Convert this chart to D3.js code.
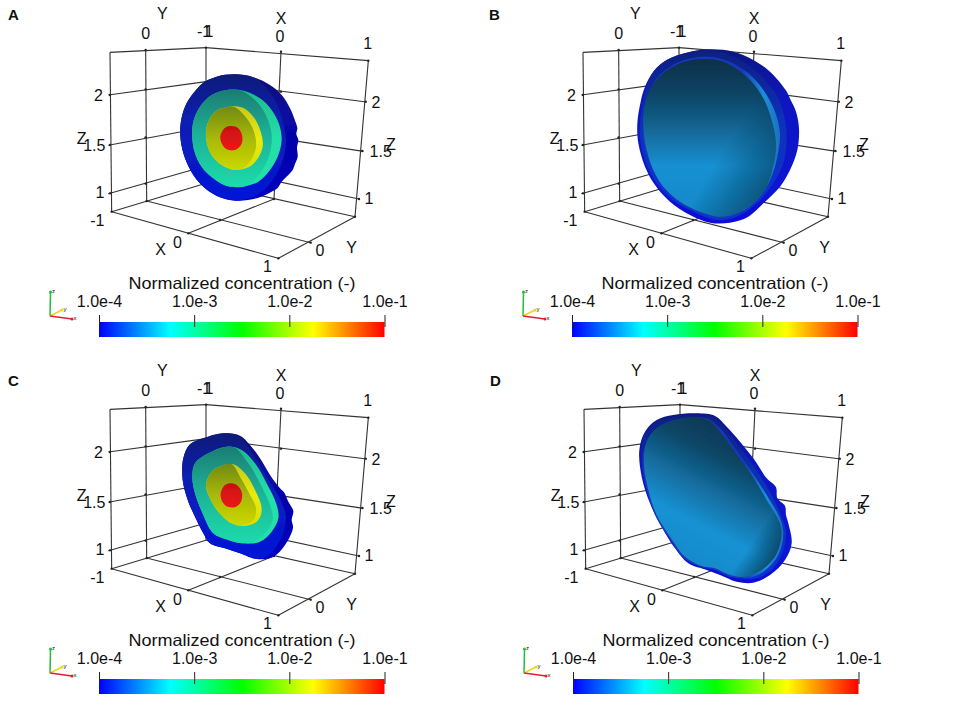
<!DOCTYPE html>
<html>
<head>
<meta charset="utf-8">
<script src="https://cdn.jsdelivr.net/npm/d3@7"></script>
<style>
body { margin: 0; background: #fff; }
text { font-family: "Liberation Sans", Arial, sans-serif; fill: #111; }
</style>
</head>
<body>
<svg id="chart" width="957" height="709"></svg>
<script>
// in 3x crop units
var panelNames = ["A", "B", "C", "D"];
var concTicks = [1e-4, 1e-3, 1e-2, 1e-1];
var concLabels = ["1.0e-4", "1.0e-3", "1.0e-2", "1.0e-1"];
var barTitle = "Normalized concentration (-)";

// bounding box wireframe, [x1,y1,x2,y2]
var boxLines = [
  [330,157,618,143],[618,143,1105,182],
  [330,157,335,635],[437,150,440,603],[618,143,618,550],[843,155,822,597],[1105,182,1065,650],
  [325,285,618,245],[618,245,1100,306],
  [325,436,618,382],[618,382,1090,454],
  [325,581,618,498],[618,498,1080,598],
  [335,635,618,550],[618,550,1065,650],
  [335,635,835,775],[835,775,1065,650],
  [440,603,932,728],[565,700,822,597]
];
var boxDots = [
  [437,150],[618,143],[843,155],[1105,182],
  [330,285],[437,268],[843,275],[1097,305],
  [330,435],[437,412],[1087,453],
  [330,580],[437,551],[1077,597],
  [335,635],[440,603],[822,597],[1065,650],
  [565,700],[835,775],[932,728],[660,660]
];
// axis labels: text, x, y
var axisText = [
  ["Y",487,58],["0",437,116],["-1",612,112],["1",627,112],["X",843,72],["0",840,126],["1",1103,146],
  ["2",295,303],["Z",245,432],["1.5",283,453],["1",300,595],["-1",292,678],
  ["X",482,765],["0",532,744],["1",802,817],["0",960,767],["Y",1055,758],
  ["2",1128,323],["1.5",1142,471],["Z",1173,449],["1",1107,611]
];

// A: crop origin 160,60
var rimA = [[130,68],[170,50],[225,43],[280,52],[330,75],[365,105],[390,145],[408,190],[412,205],[409,222],[415,240],[411,262],[413,290],[405,312],[398,330],[385,345],[365,365],[352,385],[335,395],[290,415],[230,422],[180,412],[135,385],[100,345],[75,295],[62,240],[62,190],[75,140],[100,100]];
var ringA = [[130,68],[170,50],[225,43],[280,52],[320,85],[350,130],[370,190],[378,250],[365,310],[335,365],[290,405],[230,422],[180,412],[135,385],[100,345],[75,295],[62,240],[62,190],[75,140],[100,100]];
var tealA = [[155,105],[200,90],[250,92],[300,115],[335,150],[358,195],[365,240],[355,285],[330,330],[295,365],[250,380],[200,378],[160,355],[125,320],[105,280],[97,235],[100,185],[120,140]];
var tealInA = [[155,105],[200,90],[245,93],[290,125],[320,170],[335,225],[328,285],[300,340],[265,375],[225,380],[195,376],[160,355],[125,320],[105,280],[97,235],[100,185],[120,140]];
var yelA = [[165,155],[205,140],[245,142],[280,170],[302,215],[308,260],[290,300],[265,322],[225,330],[185,315],[155,285],[140,245],[140,200]];
var yelInA = [[165,155],[205,140],[225,142],[260,175],[282,215],[288,260],[270,305],[240,328],[225,330],[185,315],[155,285],[140,245],[140,200]];
var redA = [[195,203],[215,198],[235,205],[247,230],[243,255],[225,270],[200,268],[185,250],[181,228]];

// C: crop origin 160,405
var rimC = [[90,118],[130,100],[190,85],[240,92],[270,120],[300,160],[330,210],[360,250],[372,262],[385,290],[400,318],[395,345],[399,368],[375,420],[340,455],[290,462],[240,445],[195,430],[150,415],[130,385],[105,335],[85,290],[68,225],[70,160]];
var ringC = [[90,118],[130,100],[190,85],[235,92],[262,122],[290,165],[320,215],[348,260],[368,300],[378,335],[372,375],[352,420],[325,452],[290,462],[240,445],[195,430],[150,415],[130,385],[105,335],[85,290],[68,225],[70,160]];
var tealC = [[105,175],[145,145],[200,125],[245,135],[285,175],[320,235],[350,300],[355,340],[335,380],[300,410],[250,415],[205,405],[160,385],[130,330],[105,265],[97,215]];
var tealInC = [[105,175],[145,145],[200,125],[225,128],[265,175],[300,235],[330,300],[338,345],[315,385],[280,412],[250,415],[205,405],[160,385],[130,330],[105,265],[97,215]];
var yelC = [[155,200],[185,182],[220,178],[255,205],[285,255],[305,310],[295,345],[260,362],[215,355],[175,320],[150,280],[138,240]];
var yelInC = [[155,200],[185,182],[215,178],[240,215],[265,260],[288,310],[280,345],[245,362],[215,355],[175,320],[150,280],[138,240]];
var redC = [[195,240],[214,235],[234,243],[246,265],[243,290],[226,306],[203,305],[187,290],[182,265]];

// B: crop origin 620,40
var rimB = [[100,95],[140,60],[200,38],[270,28],[340,35],[400,60],[450,95],[497,150],[512,180],[528,215],[537,265],[532,330],[510,390],[480,440],[430,490],[385,530],[330,548],[270,548],[210,525],[150,485],[105,435],[75,380],[55,310],[52,250],[62,185],[75,140]];
var midB = [[100,95],[140,60],[200,38],[270,30],[330,45],[385,75],[435,120],[475,175],[495,240],[500,300],[490,370],[460,430],[410,490],[350,530],[290,540],[220,515],[155,478],[110,430],[80,375],[62,310],[60,250],[68,190],[80,140]];
var lightB = [[85,165],[110,115],[150,80],[200,58],[270,50],[330,65],[385,100],[430,150],[465,215],[480,280],[472,350],[450,420],[410,480],[355,522],[300,535],[235,518],[170,482],[125,435],[95,385],[75,325],[68,260]];
var coreB = [[75,190],[95,140],[130,100],[175,72],[230,58],[290,60],[340,80],[395,125],[430,175],[455,240],[468,310],[462,370],[440,440],[400,490],[350,520],[300,530],[240,515],[180,485],[130,440],[100,390],[80,330],[70,260]];

// D: crop origin 620,400
var rimD = [[75,95],[110,60],[160,45],[230,40],[285,48],[320,80],[360,125],[400,175],[440,235],[468,262],[472,295],[495,318],[498,345],[505,370],[515,430],[495,480],[450,525],[400,548],[350,545],[300,525],[260,510],[205,490],[165,445],[125,380],[90,310],[65,230],[58,150]];
var midD = [[75,100],[110,65],[160,50],[230,44],[280,52],[315,85],[355,135],[395,190],[435,250],[465,305],[485,350],[498,395],[490,450],[460,505],[410,535],[360,535],[305,515],[262,500],[210,482],[170,440],[130,378],[95,308],[72,230],[65,150]];
var lightD = [[72,150],[95,100],[135,70],[190,55],[260,55],[300,85],[345,145],[395,215],[440,285],[480,355],[490,400],[475,465],[430,515],[378,535],[328,530],[285,510],[245,502],[192,475],[145,412],[105,345],[80,270],[68,200]];
var coreD = [[80,125],[110,85],[150,65],[210,52],[265,60],[300,95],[345,155],[395,225],[440,300],[478,365],[485,400],[468,465],[425,510],[375,530],[330,525],[285,505],[245,498],[195,470],[150,410],[110,345],[85,270],[72,190]];

var svg = d3.select("#chart");
var defs = svg.append("defs");

function addGradient(id, stops, x2, y2, x1, y1) {
  var g = defs.append("linearGradient").attr("id", id)
    .attr("x1", x1 || 0).attr("y1", y1 || 0)
    .attr("x2", x2).attr("y2", y2);
  g.selectAll("stop").data(stops).enter().append("stop")
    .attr("offset", function(d){ return d[0]; })
    .attr("stop-color", function(d){ return d[1]; })
    .attr("stop-opacity", function(d){ return d[2] === undefined ? 1 : d[2]; });
}
addGradient("rainbow", [[0,"#0000ff"],[.25,"#00ffff"],[.5,"#00ff00"],[.75,"#ffff00"],[1,"#ff0000"]], 1, 0);
addGradient("rimBlue", [[0,"#0a1070"],[.3,"#0808a0"],[1,"#0000c0"]], 0, 1);
addGradient("ringBlue", [[0,"#0c1a78"],[.35,"#0a20b0"],[1,"#0414d8"]], 0, 1);
addGradient("tealRim", [[0,"#1fb890"],[.5,"#22e0a8"],[1,"#20e0a8"]], 0, 1);
addGradient("tealIn", [[0,"#197c72"],[.45,"#1eb096"],[1,"#1fdcaa"]], 0, 1);
addGradient("yelRim", [[0,"#c8c818"],[.5,"#eaea10"],[1,"#d8e000"]], 0, 1);
addGradient("yelIn", [[0,"#728a14"],[.5,"#a8b808"],[1,"#ccd800"]], 0, 1);
addGradient("redFill", [[0,"#c81010"],[1,"#f01818"]], 0, 1);
addGradient("edgeBlue", [[0,"#0a1480"],[.3,"#1018c0"],[1,"#0a10d8"]], 0, 1);
addGradient("midBlue", [[0,"#0a1f80"],[.4,"#1030b8"],[1,"#1030d0"]], 0, 1);
addGradient("lightRim", [[0,"#1438b8"],[.72,"#1438b8"],[.88,"#1a90d8"],[1,"#1a70c0"]], 1, 0);
addGradient("coreB", [[0,"#0c3048"],[.22,"#0e4464"],[.42,"#12628f"],[.68,"#1390d2"],[1,"#1288c8"]], 0, 1);
addGradient("shadeB", [[0,"#0c3048",0],[.62,"#0c3048",0],[1,"#0c3048",.6]], 1, .75, .1, .1);
addGradient("coreD", [[0,"#0c3048"],[.28,"#0e4666"],[.48,"#12699a"],[.72,"#1392d4"],[1,"#1288c8"]], .3, .95, .72, 0);
addGradient("shadeD", [[0,"#0c3048",0],[.7,"#0c3048",0],[1,"#0c3048",.65]], .95, .85, .5, .5);

var soft = defs.append("filter").attr("id", "soft");
soft.append("feGaussianBlur").attr("stdDeviation", 0.5);

var panels = [
  { name: panelNames[0], dx: 0, dy: 0, labelX: 8, labelY: 20, cropX: 160, cropY: 60,
    layers: [[rimA,"rimBlue"],[ringA,"ringBlue"],[tealA,"tealRim"],[tealInA,"tealIn"],[yelA,"yelRim"],[yelInA,"yelIn"],[redA,"redFill"]] },
  { name: panelNames[1], dx: 473, dy: 0, labelX: 489, labelY: 20, cropX: 620, cropY: 40,
    layers: [[rimB,"edgeBlue"],[midB,"midBlue"],[lightB,"lightRim"],[coreB,"coreB"],[coreB,"shadeB"]] },
  { name: panelNames[2], dx: 0, dy: 357, labelX: 8, labelY: 386, cropX: 160, cropY: 405,
    layers: [[rimC,"rimBlue"],[ringC,"ringBlue"],[tealC,"tealRim"],[tealInC,"tealIn"],[yelC,"yelRim"],[yelInC,"yelIn"],[redC,"redFill"]] },
  { name: panelNames[3], dx: 474, dy: 357, labelX: 490, labelY: 386, cropX: 620, cropY: 400,
    layers: [[rimD,"edgeBlue"],[midD,"midBlue"],[lightD,"lightRim"],[coreD,"coreD"],[coreD,"shadeD"]] }
];

// crop units to panel pixels
var wx = d3.scaleLinear().domain([0,1200]).range([0,400]);
var wy = d3.scaleLinear().domain([0,1035]).range([0,345]);
var conc = d3.scaleLog().domain([1e-4,1e-1]).range([99,384.5]);

panels.forEach(drawPanel);

function drawPanel(p) {
  svg.append("text").attr("x", p.labelX).attr("y", p.labelY)
    .attr("font-size", 15).attr("font-weight", "bold").text(p.name);

  var g = svg.append("g").attr("transform", "translate(" + p.dx + "," + p.dy + ")");

  g.selectAll("line.box").data(boxLines).enter().append("line").attr("class", "box")
    .attr("x1", function(d){ return wx(d[0]); })
    .attr("y1", function(d){ return wy(d[1]); })
    .attr("x2", function(d){ return wx(d[2]); })
    .attr("y2", function(d){ return wy(d[3]); })
    .attr("stroke", "#333").attr("stroke-width", 1.1);

  g.selectAll("circle.tick").data(boxDots).enter().append("circle").attr("class", "tick")
    .attr("cx", function(d){ return wx(d[0]); })
    .attr("cy", function(d){ return wy(d[1]); })
    .attr("r", 1.2).attr("fill", "#222");

  g.selectAll("text.axis").data(axisText).enter().append("text").attr("class", "axis")
    .attr("x", function(d){ return wx(d[1]); })
    .attr("y", function(d){ return wy(d[2]); })
    .attr("text-anchor", "middle").attr("font-size", 16)
    .text(function(d){ return d[0]; });

  // the concentration shells, back to front
  var sx = d3.scaleLinear().domain([0,3]).range([p.cropX - p.dx, p.cropX - p.dx + 1]);
  var sy = d3.scaleLinear().domain([0,3]).range([p.cropY - p.dy, p.cropY - p.dy + 1]);
  var outline = d3.line()
    .x(function(d){ return sx(d[0]); })
    .y(function(d){ return sy(d[1]); })
    .curve(d3.curveCatmullRomClosed);

  g.append("g").attr("filter", "url(#soft)")
    .selectAll("path").data(p.layers).enter().append("path")
    .attr("d", function(d){ return outline(d[0]); })
    .attr("fill", function(d){ return "url(#" + d[1] + ")"; });

  // colour bar
  g.append("rect").attr("x", conc(1e-4)).attr("y", 322)
    .attr("width", conc(1e-1) - conc(1e-4)).attr("height", 15)
    .attr("fill", "url(#rainbow)");

  var axis = d3.axisTop(conc).tickValues(concTicks).tickSize(12).tickPadding(8)
    .tickFormat(function(d, i){ return concLabels[i]; });
  var ag = g.append("g").attr("transform", "translate(0,327)").call(axis);
  ag.select(".domain").remove();
  ag.selectAll("line").attr("stroke", "#222");
  ag.selectAll("text").attr("font-size", 16)
    .style("font-family", '"Liberation Sans", Arial, sans-serif').style("fill", "#111");

  g.append("text").attr("x", 242).attr("y", 289)
    .attr("text-anchor", "middle").attr("font-size", 16.5)
    .attr("textLength", 227).attr("lengthAdjust", "spacingAndGlyphs")
    .text(barTitle);

  drawTriad(g);
}

function drawTriad(g) {
  var arms = [["z","#22c03a",50.5,292],["y","#e8d818",62,310],["x","#e02030",72,319]];
  g.selectAll("line.arm").data(arms).enter().append("line").attr("class", "arm")
    .attr("x1", 50).attr("y1", 316)
    .attr("x2", function(d){ return d[2]; })
    .attr("y2", function(d){ return d[3]; })
    .attr("stroke", function(d){ return d[1]; })
    .attr("stroke-width", 1.5);
  g.selectAll("circle.arm").data(arms).enter().append("circle").attr("class", "arm")
    .attr("cx", function(d){ return d[2]; })
    .attr("cy", function(d){ return d[3]; })
    .attr("r", 1.5).attr("fill", function(d){ return d[1]; });
  g.selectAll("text.arm").data(arms).enter().append("text").attr("class", "arm")
    .attr("x", function(d){ return d[2] + 1.5; })
    .attr("y", function(d){ return d[3] + 1; })
    .attr("font-size", 6).text(function(d){ return d[0]; });
}
</script>
</body>
</html>
